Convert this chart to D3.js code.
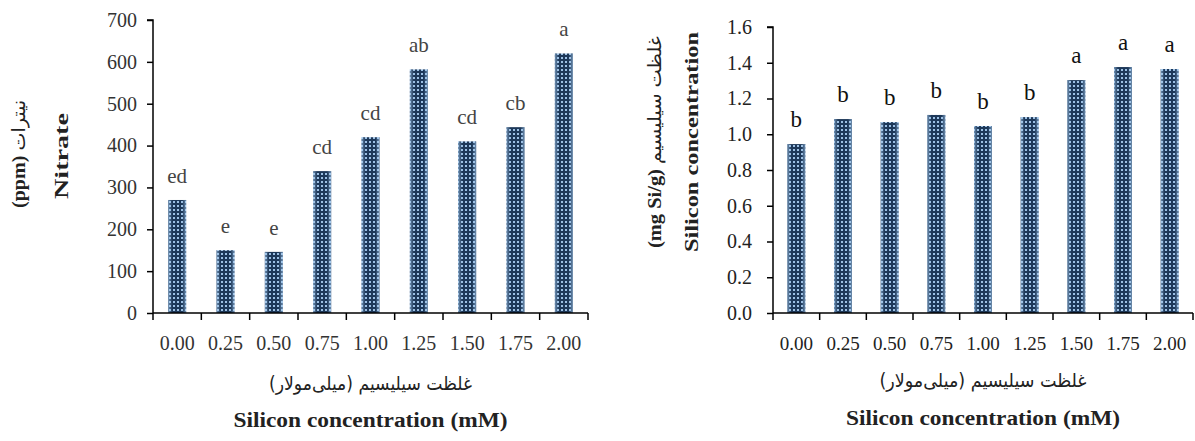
<!DOCTYPE html>
<html>
<head>
<meta charset="utf-8">
<script src="https://cdn.jsdelivr.net/npm/d3@7"></script>
<style>
  body { margin: 0; background: #fff; }
  svg { display: block; }
</style>
</head>
<body>
<svg id="chart" width="1195" height="441"></svg>
<script>
var categories = ["0.00", "0.25", "0.50", "0.75", "1.00", "1.25", "1.50", "1.75", "2.00"];

var nitrate = [270, 150, 146, 339, 420, 582, 410, 444, 620];
var nitrateLetters = ["ed", "e", "e", "cd", "cd", "ab", "cd", "cb", "a"];
var nitrateTicks = [0, 100, 200, 300, 400, 500, 600, 700];

var silicon = [0.945, 1.085, 1.068, 1.108, 1.046, 1.096, 1.303, 1.376, 1.365];
var siliconLetters = ["b", "b", "b", "b", "b", "b", "a", "a", "a"];
var siliconTicks = [0, 0.2, 0.4, 0.6, 0.8, 1.0, 1.2, 1.4, 1.6];

var svg = d3.select("#chart");
var serif = "'Liberation Serif', 'Times New Roman', serif";
var arabicFont = "'DejaVu Sans', sans-serif";

// bar fill: dark navy with light dots
var defs = svg.append("defs");
var pat = defs.append("pattern")
  .attr("id", "dots")
  .attr("width", 4).attr("height", 4)
  .attr("patternUnits", "userSpaceOnUse");
pat.append("rect").attr("width", 4).attr("height", 4).attr("fill", "#1d3859");
pat.append("rect").attr("x", 1).attr("y", 1).attr("width", 2).attr("height", 2).attr("fill", "#9cc0e4");

var grad = defs.append("linearGradient").attr("id", "edge").attr("x1", 0).attr("x2", 1).attr("y1", 0).attr("y2", 0);
grad.append("stop").attr("offset", "0%").attr("stop-color", "#a8cdf0").attr("stop-opacity", 0.6);
grad.append("stop").attr("offset", "22%").attr("stop-color", "#a8cdf0").attr("stop-opacity", 0);
grad.append("stop").attr("offset", "78%").attr("stop-color", "#a8cdf0").attr("stop-opacity", 0);
grad.append("stop").attr("offset", "100%").attr("stop-color", "#a8cdf0").attr("stop-opacity", 0.6);

function drawPanel(p) {
  var x = d3.scaleBand().domain(categories).range([p.x0, p.x1]).padding(0);
  var y = d3.scaleLinear().domain([0, p.max]).range([313, p.top]);
  var g = svg.append("g");

  // bars
  var bw = p.barWidth;
  var bars = g.selectAll(".bar").data(p.values).enter().append("g");
  bars.append("rect")
    .attr("x", function (d, i) { return x(categories[i]) + x.bandwidth() / 2 - bw / 2; })
    .attr("y", function (d) { return y(d); })
    .attr("width", bw)
    .attr("height", function (d) { return y(0) - y(d); })
    .attr("fill", "url(#dots)");
  bars.append("rect")
    .attr("x", function (d, i) { return x(categories[i]) + x.bandwidth() / 2 - bw / 2; })
    .attr("y", function (d) { return y(d); })
    .attr("width", bw)
    .attr("height", function (d) { return y(0) - y(d); })
    .attr("fill", "url(#edge)");

  // significance letters
  g.selectAll(".lbl").data(p.values).enter().append("text")
    .attr("x", function (d, i) { return x(categories[i]) + x.bandwidth() / 2; })
    .attr("y", function (d) { return y(d) - 17; })
    .attr("text-anchor", "middle")
    .style("font-family", serif)
    .style("font-size", p.letterSize + "px")
    .style("fill", p.letterColor)
    .text(function (d, i) { return p.letters[i]; });

  // y axis
  var yAxis = d3.axisLeft(y).tickValues(p.ticks).tickSize(6).tickPadding(p.tickPad)
    .tickFormat(p.fmt);
  var ya = g.append("g").attr("transform", "translate(" + p.x0 + ",0)").call(yAxis);
  ya.select(".domain").attr("stroke", "#000").attr("stroke-width", 1.5).attr("d", "M-6," + y(p.max) + "H0V313");
  ya.selectAll(".tick line").attr("stroke", "#000").attr("stroke-width", 1.5);
  ya.selectAll(".tick text")
    .style("font-family", serif).style("font-size", "20px").style("fill", p.tickColor);

  // x axis with ticks at category boundaries
  var xa = g.append("g").attr("transform", "translate(0,313)");
  xa.append("line").attr("x1", p.x0).attr("x2", p.x1).attr("stroke", "#000").attr("stroke-width", 1.5);
  xa.selectAll(".xt").data(categories.concat(["end"])).enter().append("line")
    .attr("x1", function (d, i) { return p.x0 + i * x.bandwidth(); })
    .attr("x2", function (d, i) { return p.x0 + i * x.bandwidth(); })
    .attr("y1", 0).attr("y2", 7)
    .attr("stroke", "#000").attr("stroke-width", 1.5);
  xa.selectAll(".xl").data(categories).enter().append("text")
    .attr("x", function (d) { return x(d) + x.bandwidth() / 2; })
    .attr("y", 37)
    .attr("text-anchor", "middle")
    .style("font-family", serif).style("font-size", p.xTickSize + "px").style("fill", p.tickColor)
    .text(function (d) { return d; });

  // x titles
  var cx = (p.x0 + p.x1) / 2;
  g.append("text").attr("x", cx).attr("y", p.arY)
    .attr("text-anchor", "middle")
    .attr("textLength", p.arLen).attr("lengthAdjust", "spacingAndGlyphs")
    .style("font-family", arabicFont).style("font-size", "19px").style("fill", "#222")
    .text("غلظت سیلیسیم (میلی‌مولار)");
  g.append("text").attr("x", cx).attr("y", p.enY)
    .attr("text-anchor", "middle")
    .attr("textLength", 274).attr("lengthAdjust", "spacingAndGlyphs")
    .style("font-family", serif).style("font-size", "20px").style("font-weight", "bold").style("fill", "#222")
    .text("Silicon concentration (mM)");

  // y titles (rotated)
  var t1 = g.append("text")
    .attr("transform", "translate(" + p.yt1x + "," + p.ytCy + ") rotate(-90)")
    .attr("text-anchor", "middle").attr("dominant-baseline", "central")
    .attr("textLength", p.yt1Len).attr("lengthAdjust", "spacingAndGlyphs")
    .style("fill", "#222");
  t1.append("tspan").style("font-family", serif).style("font-weight", "bold").style("font-size", "19px").text(p.unit + " ");
  t1.append("tspan").style("font-family", arabicFont).style("font-size", "18px").text(p.arTitle);

  g.append("text")
    .attr("transform", "translate(" + p.yt2x + "," + p.ytCy2 + ") rotate(-90)")
    .attr("text-anchor", "middle").attr("dominant-baseline", "central")
    .attr("textLength", p.yt2Len).attr("lengthAdjust", "spacingAndGlyphs")
    .style("font-family", serif).style("font-weight", "bold").style("font-size", "19px").style("fill", "#222")
    .text(p.enTitle);
}

drawPanel({
  x0: 153, x1: 588, top: 20, max: 700,
  values: nitrate, letters: nitrateLetters, ticks: nitrateTicks,
  fmt: d3.format("d"), barWidth: 18, letterSize: 21, letterColor: "#444", tickColor: "#333",
  tickPad: 10, xTickSize: 20,
  arY: 390, arLen: 203, enY: 427,
  unit: "(ppm)", arTitle: "نیترات", enTitle: "Nitrate",
  yt1x: 18, ytCy: 154, yt1Len: 108, yt2x: 61, ytCy2: 156, yt2Len: 86
});

drawPanel({
  x0: 773, x1: 1193, top: 27, max: 1.6,
  values: silicon, letters: siliconLetters, ticks: siliconTicks,
  fmt: d3.format(".1f"), barWidth: 18, letterSize: 23, letterColor: "#111", tickColor: "#222",
  tickPad: 15, xTickSize: 19,
  arY: 387, arLen: 207, enY: 425,
  unit: "(mg Si/g)", arTitle: "غلظت سیلیسیم", enTitle: "Silicon concentration",
  yt1x: 654, ytCy: 142, yt1Len: 212, yt2x: 691, ytCy2: 142, yt2Len: 220
});
</script>
</body>
</html>
